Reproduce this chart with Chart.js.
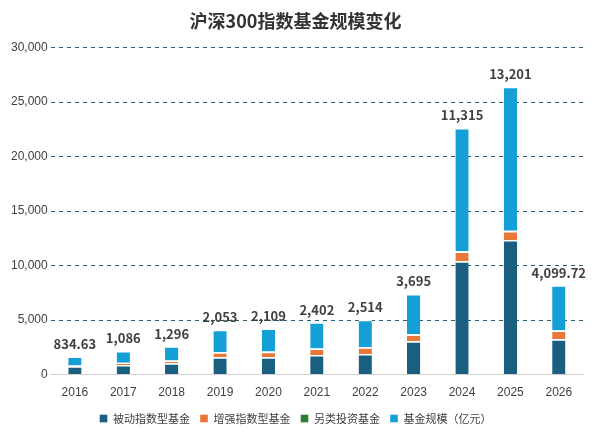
<!DOCTYPE html>
<html><head><meta charset="utf-8">
<script src="https://cdn.jsdelivr.net/npm/chart.js@4"></script>
<style>html,body{margin:0;padding:0;background:#fff}#w{width:597px;height:436px}</style>
</head><body><div id="w"><canvas id="c"></canvas></div>
<script>
const years=['2016','2017','2018','2019','2020','2021','2022','2023','2024','2025','2026'];
const passive=[760,880,1040,1600,1600,1800,1900,3050,10400,12350,3250];
const enhanced=[70,200,250,440,490,590,600,630,890,820,800];
const alt=[4.63,6,6,13,19,12,14,15,25,31,49.72];
const scale=[834.63,1086,1296,2053,2109,2402,2514,3695,11315,13201,4099.72];
const labels=['834.63','1,086','1,296','2,053','2,109','2,402','2,514','3,695','11,315','13,201','4,099.72'];
const topLabels={id:'tl',afterDatasetsDraw(ch){const ctx=ch.ctx;const m=ch.getDatasetMeta(3);ctx.save();ctx.font='bold 13px "Microsoft YaHei","Noto Sans CJK SC",sans-serif';ctx.fillStyle='#404040';ctx.textAlign='center';ctx.textBaseline='bottom';m.data.forEach((b,i)=>ctx.fillText(labels[i],b.x,b.y-6));ctx.restore();}};
const ds=(l,d,c)=>({label:l,data:d,backgroundColor:c,borderColor:'#fff',borderWidth:{top:1.5,bottom:0,left:0,right:0},borderSkipped:false,barPercentage:0.5,categoryPercentage:0.55});
new Chart(document.getElementById('c'),{type:'bar',
data:{labels:years,datasets:[ds('被动指数型基金',passive,'#1a5f80'),ds('增强指数型基金',enhanced,'#e8773a'),ds('另类投资基金',alt,'#2e7d32'),ds('基金规模（亿元）',scale,'#14a0d6')]},
plugins:[topLabels],
options:{responsive:true,maintainAspectRatio:false,animation:false,
layout:{padding:{left:8,right:14,top:4,bottom:2}},
plugins:{title:{display:true,text:'沪深300指数基金规模变化',font:{size:18,weight:'bold',family:'"Microsoft YaHei","Noto Sans CJK SC",sans-serif'},color:'#333',padding:{top:6,bottom:16}},
legend:{position:'bottom',labels:{boxWidth:8,boxHeight:8,padding:10,color:'#404040',font:{size:11,family:'"Noto Sans CJK SC",sans-serif'}}},tooltip:{enabled:false}},
scales:{x:{stacked:true,grid:{display:false},border:{color:'#d0d0d0'},ticks:{color:'#404040',font:{size:12}}},
y:{stacked:true,min:0,max:30000,ticks:{stepSize:5000,color:'#404040',font:{size:12},callback:v=>v.toLocaleString('en-US')},grid:{color:'#1f5f7a',borderDash:[4,4],drawTicks:false},border:{display:false,dash:[4,4]}}}}});
</script></body></html>
